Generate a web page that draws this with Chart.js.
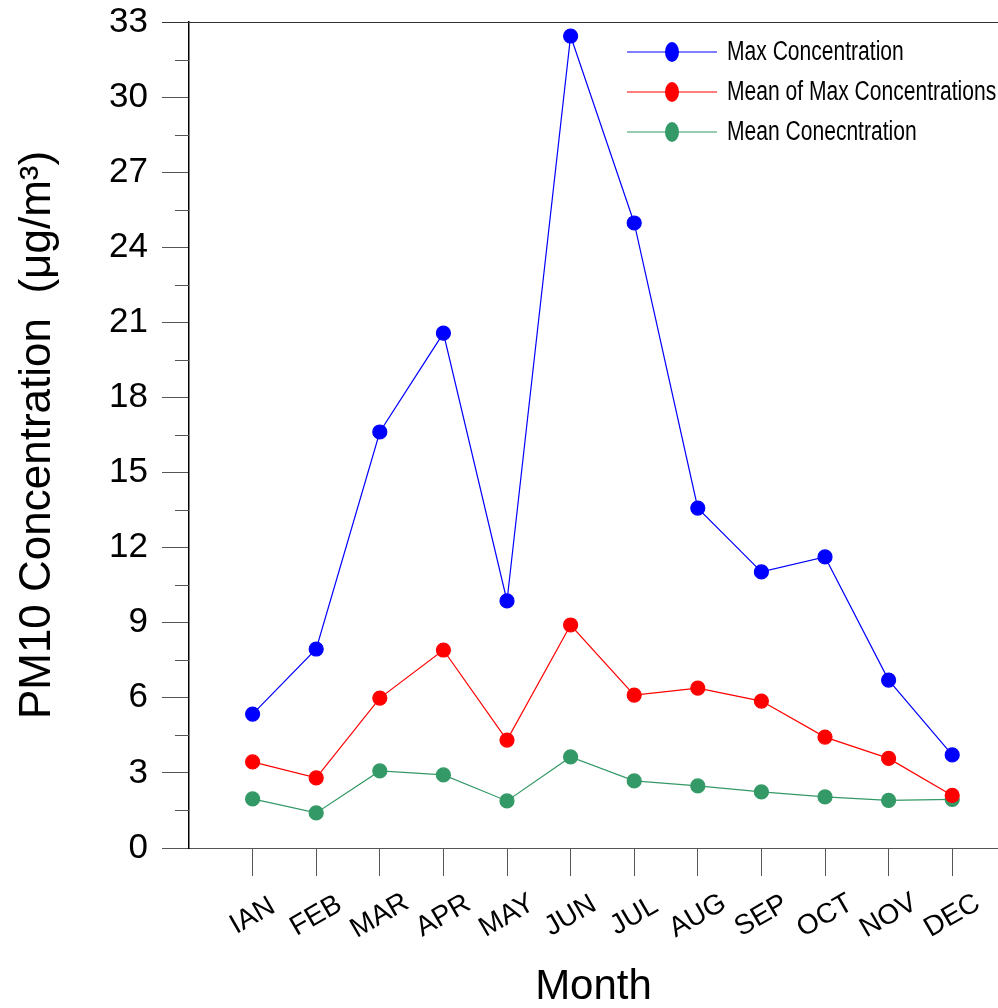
<!DOCTYPE html>
<html>
<head>
<meta charset="utf-8">
<script src="https://cdn.jsdelivr.net/npm/chart.js@4"></script>
<style>
  html, body { margin: 0; padding: 0; background: #fff; overflow: hidden; }
  #wrap { width: 998px; height: 1008px; position: relative; }
</style>
</head>
<body>
<div id="wrap"><canvas id="chart"></canvas></div>
<script>
const months = ["IAN", "FEB", "MAR", "APR", "MAY", "JUN", "JUL", "AUG", "SEP", "OCT", "NOV", "DEC"]
const maxConc = [5.35, 7.95, 16.62, 20.57, 9.87, 32.44, 24.97, 13.58, 11.03, 11.63, 6.71, 3.72]
const meanOfMax = [3.44, 2.8, 5.99, 7.91, 4.31, 8.91, 6.11, 6.39, 5.87, 4.43, 3.58, 2.1]
const meanConc = [1.96, 1.4, 3.08, 2.92, 1.88, 3.64, 2.68, 2.48, 2.24, 2.04, 1.9, 1.94]
const seriesNames = ["Max Concentration", "Mean of Max Concentrations", "Mean Conecntration"]
const seriesColors = ["#0000ff", "#ff0000", "#339966"]
const yMin = 0, yMax = 33, yStep = 3

const toPoints = arr => arr.map((v, i) => ({ x: i + 1, y: v }))

const makeSet = (label, arr, color) => ({
  label: label,
  data: toPoints(arr),
  borderColor: color,
  backgroundColor: color,
  pointBackgroundColor: color,
  pointBorderColor: color,
  borderWidth: 1.2,
  pointRadius: 7,
  pointHoverRadius: 7,
  tension: 0,
  clip: false
})

const noPad = scale => {
  scale.paddingTop = 0
  scale.paddingBottom = 0
  scale.paddingLeft = 0
  scale.paddingRight = 0
}

// minor y ticks, top frame line, rotated month labels, legend
const extras = {
  id: 'extras',
  afterDraw(chart) {
    const ctx = chart.ctx
    const area = chart.chartArea
    const ys = chart.scales.y
    const xs = chart.scales.x
    ctx.save()

    ctx.strokeStyle = '#555'
    ctx.lineWidth = 1
    for (let v = yMin + yStep / 2; v < yMax; v += yStep) {
      const py = Math.round(ys.getPixelForValue(v)) + 0.5
      ctx.beginPath()
      ctx.moveTo(area.left - 14, py)
      ctx.lineTo(area.left, py)
      ctx.stroke()
    }

    ctx.strokeStyle = '#333'
    ctx.beginPath()
    ctx.moveTo(area.left - 27, Math.round(area.top) + 0.5)
    ctx.lineTo(chart.width, Math.round(area.top) + 0.5)
    ctx.stroke()

    ctx.fillStyle = '#000'
    ctx.font = '28px "Liberation Sans", Arial, sans-serif'
    ctx.textAlign = 'center'
    ctx.textBaseline = 'middle'
    months.forEach((m, i) => {
      const px = xs.getPixelForValue(i + 1)
      ctx.save()
      ctx.translate(px, area.bottom + 68)
      ctx.rotate(-Math.PI / 6)
      ctx.fillText(m, 0, 0)
      ctx.restore()
    })

    // legend, narrow text like the original
    ctx.font = '27px "Liberation Sans", Arial, sans-serif'
    ctx.textAlign = 'left'
    chart.data.datasets.forEach((ds, i) => {
      const ly = 52 + i * 40
      ctx.strokeStyle = ds.borderColor
      ctx.lineWidth = 1.2
      ctx.beginPath()
      ctx.moveTo(627, ly)
      ctx.lineTo(717, ly)
      ctx.stroke()
      ctx.fillStyle = ds.borderColor
      ctx.beginPath()
      ctx.ellipse(672, ly, 7, 10, 0, 0, Math.PI * 2)
      ctx.fill()
      ctx.fillStyle = '#000'
      ctx.save()
      ctx.translate(727, ly + 1)
      ctx.scale(0.78, 1)
      ctx.fillText(ds.label, 0, 0)
      ctx.restore()
    })
    ctx.restore()
  }
}

new Chart(document.getElementById('chart'), {
  type: 'line',
  data: {
    datasets: [
      makeSet(seriesNames[0], maxConc, seriesColors[0]),
      makeSet(seriesNames[1], meanOfMax, seriesColors[1]),
      makeSet(seriesNames[2], meanConc, seriesColors[2])
    ]
  },
  options: {
    responsive: true,
    maintainAspectRatio: false,
    animation: false,
    layout: {
      autoPadding: false,
      padding: { top: 22, left: 0, right: 0, bottom: 0 }
    },
    plugins: {
      legend: { display: false },
      tooltip: { enabled: false }
    },
    scales: {
      x: {
        type: 'linear',
        min: 0,
        max: 12.72,
        afterFit: scale => { scale.height = 160; noPad(scale) },
        afterBuildTicks: scale => { scale.ticks = months.map((m, i) => ({ value: i + 1 })) },
        grid: {
          drawOnChartArea: false,
          tickLength: 28,
          color: '#555'
        },
        border: { color: '#555', width: 1 },
        ticks: { display: false },
        title: {
          display: true,
          text: 'Month',
          color: '#000',
          font: { family: '"Liberation Sans", Arial, sans-serif', size: 42, lineHeight: 1 },
          padding: { top: 0, bottom: 0 }
        }
      },
      y: {
        min: yMin,
        max: yMax,
        afterFit: scale => { scale.width = 189; noPad(scale) },
        grid: {
          drawOnChartArea: false,
          tickLength: 27,
          color: '#555'
        },
        border: { color: '#000', width: 1.5 },
        ticks: {
          stepSize: yStep,
          padding: 14,
          color: '#000',
          font: { family: '"Liberation Sans", Arial, sans-serif', size: 35 }
        },
        title: {
          display: true,
          text: 'PM10 Concentration  (\u03bcg/m\u00b3)',
          color: '#000',
          font: { family: '"Liberation Sans", Arial, sans-serif', size: 44 },
          padding: { top: 11, bottom: 0 }
        }
      }
    }
  },
  plugins: [extras]
})
</script>
</body>
</html>
